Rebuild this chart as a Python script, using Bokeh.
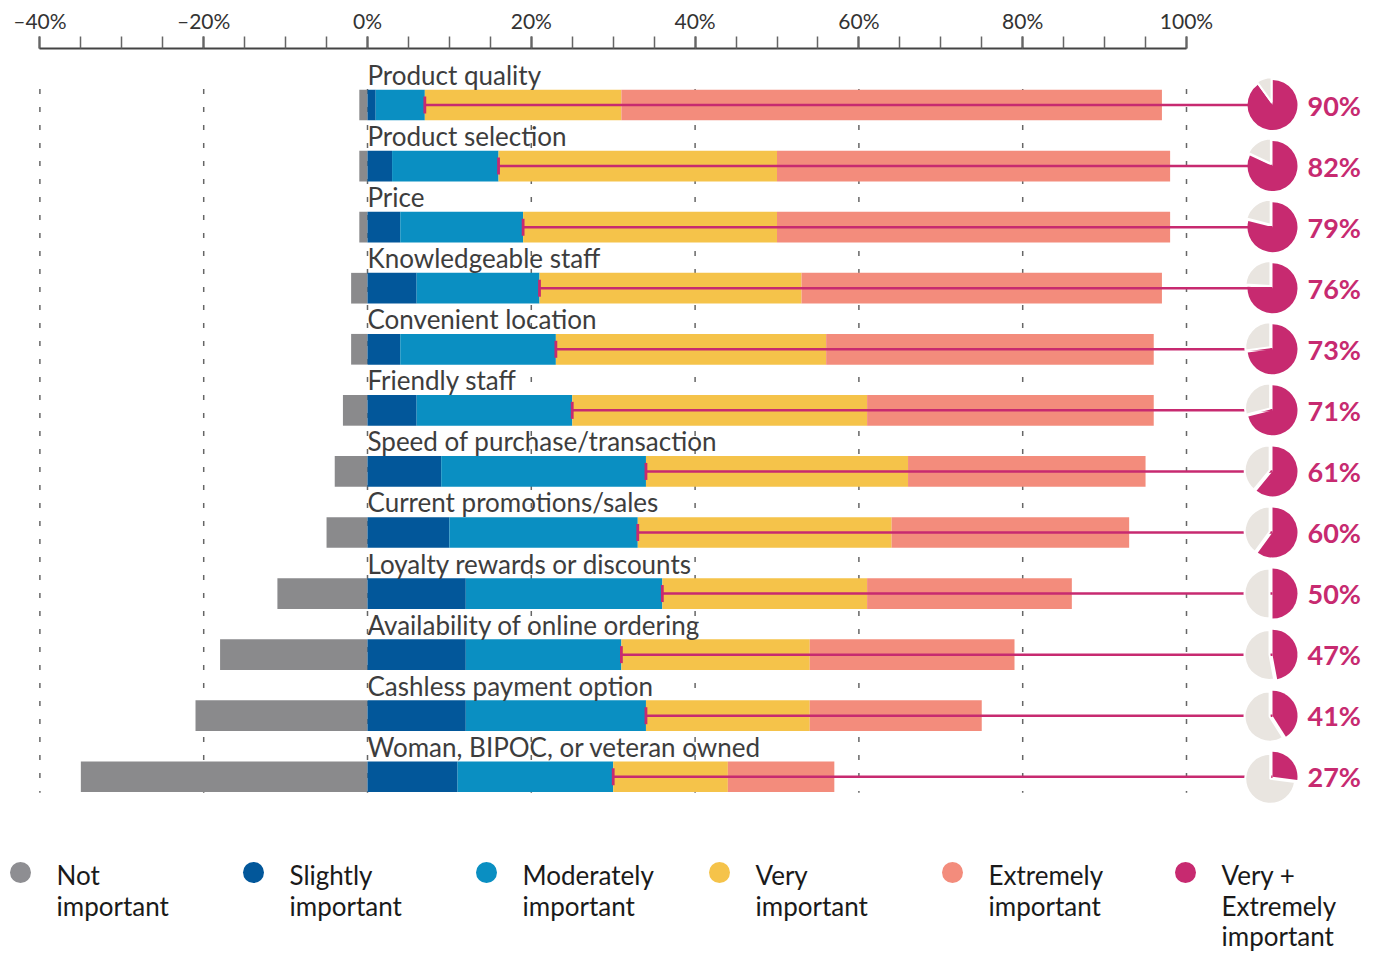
import math
from bokeh.plotting import figure
from bokeh.models import ColumnDataSource, Range1d, FixedTicker, LinearAxis
from bokeh.core.properties import value
from bokeh.embed import file_html
from bokeh.resources import INLINE

# ---------------- data ----------------
categories = ["Product quality", "Product selection", "Price", "Knowledgeable staff",
              "Convenient location", "Friendly staff", "Speed of purchase/transaction",
              "Current promotions/sales", "Loyalty rewards or discounts",
              "Availability of online ordering", "Cashless payment option",
              "Woman, BIPOC, or veteran owned"]
not_important = [1, 1, 1, 2, 2, 3, 4, 5, 11, 18, 21, 35]
slightly = [1, 3, 4, 6, 4, 6, 9, 10, 12, 12, 12, 11]
moderately = [6, 13, 15, 15, 19, 19, 25, 23, 24, 19, 22, 19]
very = [24, 34, 31, 32, 33, 36, 32, 31, 25, 23, 20, 14]
extremely = [66, 48, 48, 44, 40, 35, 29, 29, 25, 25, 21, 13]
very_plus_extremely = [90, 82, 79, 76, 73, 71, 61, 60, 50, 47, 41, 27]

tick_values = [-40, -20, 0, 20, 40, 60, 80, 100]
tick_labels = ["\u201340%", "\u201320%", "0%", "20%", "40%", "60%", "80%", "100%"]
minor_tick_values = list(range(-40, 101, 5))

legend_labels = [["Not", "important"], ["Slightly", "important"],
                 ["Moderately", "important"], ["Very", "important"],
                 ["Extremely", "important"], ["Very +", "Extremely", "important"]]

# ---------------- style ----------------
C_NOT = "#8a8a8c"
C_SLI = "#02579a"
C_MOD = "#0a8fc2"
C_VER = "#f5c34a"
C_EXT = "#f38c7c"
C_MAG = "#c72a70"
C_PIE_BG = "#e9e5e0"
legend_colors = ["#8e8e92", C_SLI, C_MOD, C_VER, C_EXT, C_MAG]
FONT = "Lato"

W, H = 1372, 951
PX_PER_PCT = 8.19
PX_PER_ROW = 61.07
ZERO_PX = 367
AXIS_PX = 48
ROW1_PX = 104.5
TXT_FIX = 9  # alphabetic baseline correction (px)

x_start = -ZERO_PX / PX_PER_PCT
x_end = x_start + W / PX_PER_PCT
frame_h = H - AXIS_PX
y_top = (ROW1_PX - AXIS_PX) / PX_PER_ROW
y_bottom = y_top - frame_h / PX_PER_ROW

p = figure(width=W, height=H, output_backend="svg", toolbar_location=None,
           x_range=Range1d(x_start, x_end), y_range=Range1d(y_bottom, y_top),
           x_axis_location=None, y_axis_location=None,
           min_border_left=0, min_border_right=0, min_border_top=AXIS_PX, min_border_bottom=0)
p.outline_line_color = None
p.xgrid.grid_line_color = None
p.ygrid.grid_line_color = None
p.background_fill_color = "white"
p.border_fill_color = "white"

# axis on top
ax = LinearAxis(ticker=FixedTicker(ticks=tick_values, minor_ticks=minor_tick_values),
                bounds=(-40, 100))
ax.major_label_overrides = {v: l for v, l in zip(tick_values, tick_labels)}
ax.major_label_text_font = FONT
ax.major_label_text_font_size = "21px"
ax.major_label_text_color = "#333333"
ax.major_label_standoff = 4
ax.axis_line_color = "#444444"
ax.axis_line_width = 2
ax.major_tick_line_color = "#444444"
ax.major_tick_line_width = 2
ax.major_tick_out = 12
ax.major_tick_in = 0
ax.minor_tick_line_color = "#666666"
ax.minor_tick_line_width = 1.5
ax.minor_tick_out = 12
ax.minor_tick_in = 0
p.add_layout(ax, "above")

n = len(categories)
ys = [-i for i in range(n)]
bar_h = 30.7 / PX_PER_ROW

# dashed gridlines
p.segment(x0=tick_values, x1=tick_values,
          y0=[0 + 16 / PX_PER_ROW] * len(tick_values),
          y1=[-(n - 1) - 16 / PX_PER_ROW] * len(tick_values),
          line_color="#666666", line_width=1.5, line_dash="5 13")

# stacked bars
s1 = slightly
s2 = [a + b for a, b in zip(s1, moderately)]
s3 = [a + b for a, b in zip(s2, very)]
s4 = [a + b for a, b in zip(s3, extremely)]
src = ColumnDataSource(dict(y=ys, nl=[-v for v in not_important], z=[0] * n,
                            s1=s1, s2=s2, s3=s3, s4=s4))
p.hbar(y="y", left="nl", right="z", height=bar_h, source=src, fill_color=C_NOT, line_color=None)
p.hbar(y="y", left="z", right="s1", height=bar_h, source=src, fill_color=C_SLI, line_color=None)
p.hbar(y="y", left="s1", right="s2", height=bar_h, source=src, fill_color=C_MOD, line_color=None)
p.hbar(y="y", left="s2", right="s3", height=bar_h, source=src, fill_color=C_VER, line_color=None)
p.hbar(y="y", left="s3", right="s4", height=bar_h, source=src, fill_color=C_EXT, line_color=None)

# category labels
p.text(x=[0] * n, y=[y + (21 + TXT_FIX) / PX_PER_ROW for y in ys], text=categories,
       text_font=value(FONT), text_font_size="26px", text_color="#3d3d3d",
       text_align="left", text_baseline="alphabetic")

# magenta connector lines
PIE_X = (1272 - ZERO_PX) / PX_PER_PCT
p.segment(x0=s2, x1=[PIE_X] * n, y0=ys, y1=ys, line_color=C_MAG, line_width=2.5)
tick_half = 8.5 / PX_PER_ROW
p.segment(x0=s2, x1=s2, y0=[y + tick_half for y in ys], y1=[y - tick_half for y in ys],
          line_color=C_MAG, line_width=2.8)

# pies
R = 25
fr = [v / 100 for v in very_plus_extremely]
mag_start = [math.pi / 2 - f * 2 * math.pi for f in fr]
mag_end = [math.pi / 2] * n
gray_start = [math.pi / 2] * n
gray_end = [math.pi / 2 + (1 - f) * 2 * math.pi for f in fr]
mids = [math.pi / 2 + (1 - f) * math.pi for f in fr]
off = 3.0
gx = [PIE_X + off * math.cos(m) / PX_PER_PCT for m in mids]
gy = [y + off * math.sin(m) / PX_PER_ROW for y, m in zip(ys, mids)]
p.wedge(x=[PIE_X] * n, y=ys, radius=R, radius_units="screen",
        start_angle=mag_start, end_angle=mag_end, direction="anticlock",
        fill_color=C_MAG, line_color=None)
p.wedge(x=gx, y=gy, radius=R, radius_units="screen",
        start_angle=gray_start, end_angle=gray_end, direction="anticlock",
        fill_color=C_PIE_BG, line_color="white", line_width=2)

# percent labels
p.text(x=[(1307 - ZERO_PX) / PX_PER_PCT] * n, y=ys, text=[f"{v}%" for v in very_plus_extremely],
       text_font=value(FONT), text_font_size="27px", text_font_style="bold",
       text_color=C_MAG, text_align="left", text_baseline="middle")

# legend
def py(px):
    return -(px - ROW1_PX) / PX_PER_ROW

lx = [(20 + 233 * k - ZERO_PX) / PX_PER_PCT for k in range(len(legend_labels))]
p.scatter(x=lx, y=[py(872)] * len(lx), size=21, marker="circle",
          fill_color=legend_colors, line_color=None)
baselines = [883, 914, 944]
tx, ty, tt = [], [], []
for k, lines in enumerate(legend_labels):
    for j, line in enumerate(lines):
        tx.append((20 + 233 * k + 36 - ZERO_PX) / PX_PER_PCT)
        ty.append(py(baselines[j] - TXT_FIX))
        tt.append(line)
p.text(x=tx, y=ty, text=tt, text_font=value(FONT), text_font_size="26px",
       text_color="#1a1a1a", text_align="left", text_baseline="alphabetic")

open("out.html", "w").write(file_html(p, INLINE))
